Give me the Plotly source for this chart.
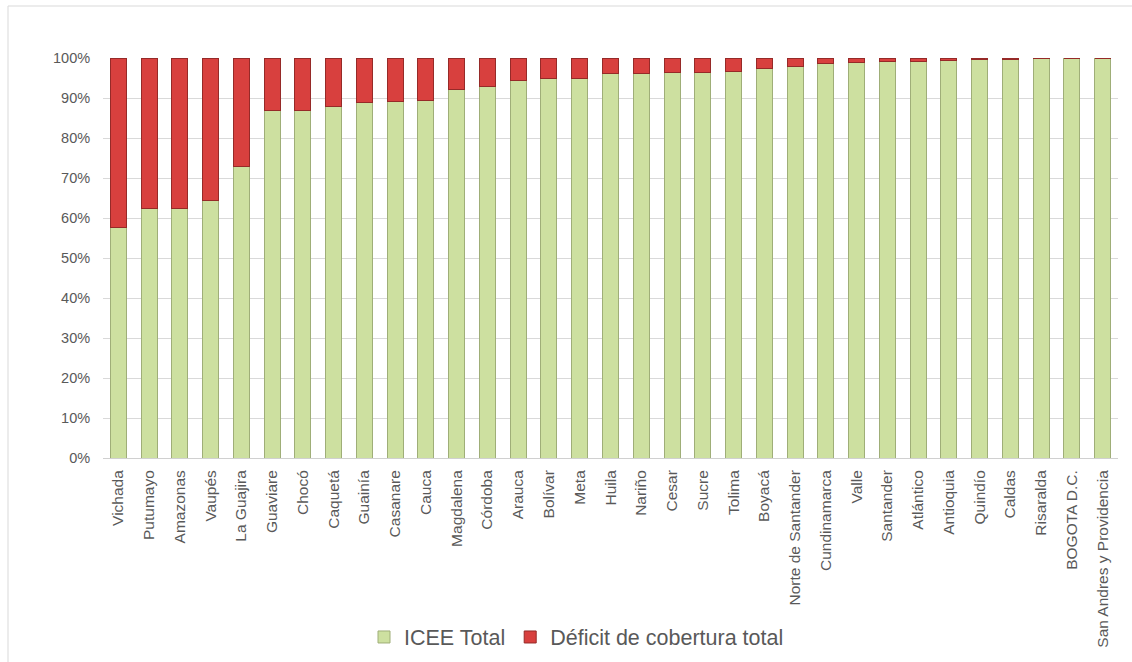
import plotly.graph_objects as go

departamentos = ["Vichada", "Putumayo", "Amazonas", "Vaupés", "La Guajira", "Guaviare", "Chocó",
                 "Caquetá", "Guainía", "Casanare", "Cauca", "Magdalena", "Córdoba", "Arauca",
                 "Bolívar", "Meta", "Huila", "Nariño", "Cesar", "Sucre", "Tolima", "Boyacá",
                 "Norte de Santander", "Cundinamarca", "Valle", "Santander", "Atlántico",
                 "Antioquia", "Quindío", "Caldas", "Risaralda", "BOGOTA D.C.",
                 "San Andres y Providencia"]

icee_total = [57.7, 62.5, 62.4, 64.3, 73.0, 86.8, 86.9, 87.8, 88.9, 89.2, 89.4, 92.2, 92.8,
              94.4, 94.9, 94.8, 96.2, 96.2, 96.4, 96.4, 96.7, 97.3, 97.9, 98.7, 98.8, 99.2,
              99.2, 99.4, 99.7, 99.7, 99.9, 100.0, 100.0]

deficit_total = [42.3, 37.5, 37.6, 35.7, 27.0, 13.2, 13.1, 12.2, 11.1, 10.8, 10.6, 7.8, 7.2,
                 5.6, 5.1, 5.2, 3.8, 3.8, 3.6, 3.6, 3.3, 2.7, 2.1, 1.3, 1.2, 0.8,
                 0.8, 0.6, 0.3, 0.3, 0.1, 0.0, 0.0]

y_ticks = [0, 10, 20, 30, 40, 50, 60, 70, 80, 90, 100]

fig = go.Figure()
fig.add_trace(go.Bar(
    x=departamentos, y=[v / 100 for v in icee_total], name="ICEE Total",
    marker=dict(color="#cde0a0", line=dict(color="#9fae78", width=1)),
))
fig.add_trace(go.Bar(
    x=departamentos, y=[v / 100 for v in deficit_total], name="Déficit de cobertura total",
    marker=dict(color="#d8403e", line=dict(color="#962a28", width=1)),
))

W, H = 1132, 662
ml, mr, mt, mb = 103, 14, 58, 204
pw, ph = W - ml - mr, H - mt - mb


def px_x(p):
    return (p - ml) / pw


def px_y(p):
    return (H - mb - p) / ph


fig.update_layout(
    width=W, height=H,
    barmode="stack", bargap=0.48,
    margin=dict(l=ml, r=mr, t=mt, b=mb, pad=0, autoexpand=False),
    paper_bgcolor="white", plot_bgcolor="white",
    font=dict(family="Liberation Sans, Arial, sans-serif", color="#595959"),
    showlegend=True,
    legend=dict(orientation="h", xref="container", yref="container",
                x=364 / W, xanchor="left", y=1 - 637 / H, yanchor="middle",
                traceorder="normal", font=dict(size=21.5, color="#595959"),
                itemwidth=30, bgcolor="rgba(0,0,0,0)"),
    xaxis=dict(type="category", tickangle=-90, tickfont=dict(size=15.5, color="#595959"),
               showline=True, linecolor="#d0d0d0", linewidth=1, showgrid=False,
               ticks="outside", ticklen=5, tickcolor="rgba(0,0,0,0)", automargin=False),
    yaxis=dict(range=[0, 1], tickvals=[t / 100 for t in y_ticks],
               ticktext=[f"{t}%" for t in y_ticks],
               tickfont=dict(size=14.5, color="#595959"),
               showgrid=True, gridcolor="#d9d9d9", gridwidth=1, zeroline=False,
               showline=False, ticks="outside", ticklen=9, tickcolor="rgba(0,0,0,0)",
               automargin=False),
    shapes=[dict(type="rect", xref="paper", yref="paper",
                 x0=px_x(8), x1=px_x(1145), y0=px_y(675), y1=px_y(6),
                 line=dict(color="#d9d9d9", width=1), fillcolor="rgba(0,0,0,0)", layer="below")],
)

fig.write_html("out.html")
